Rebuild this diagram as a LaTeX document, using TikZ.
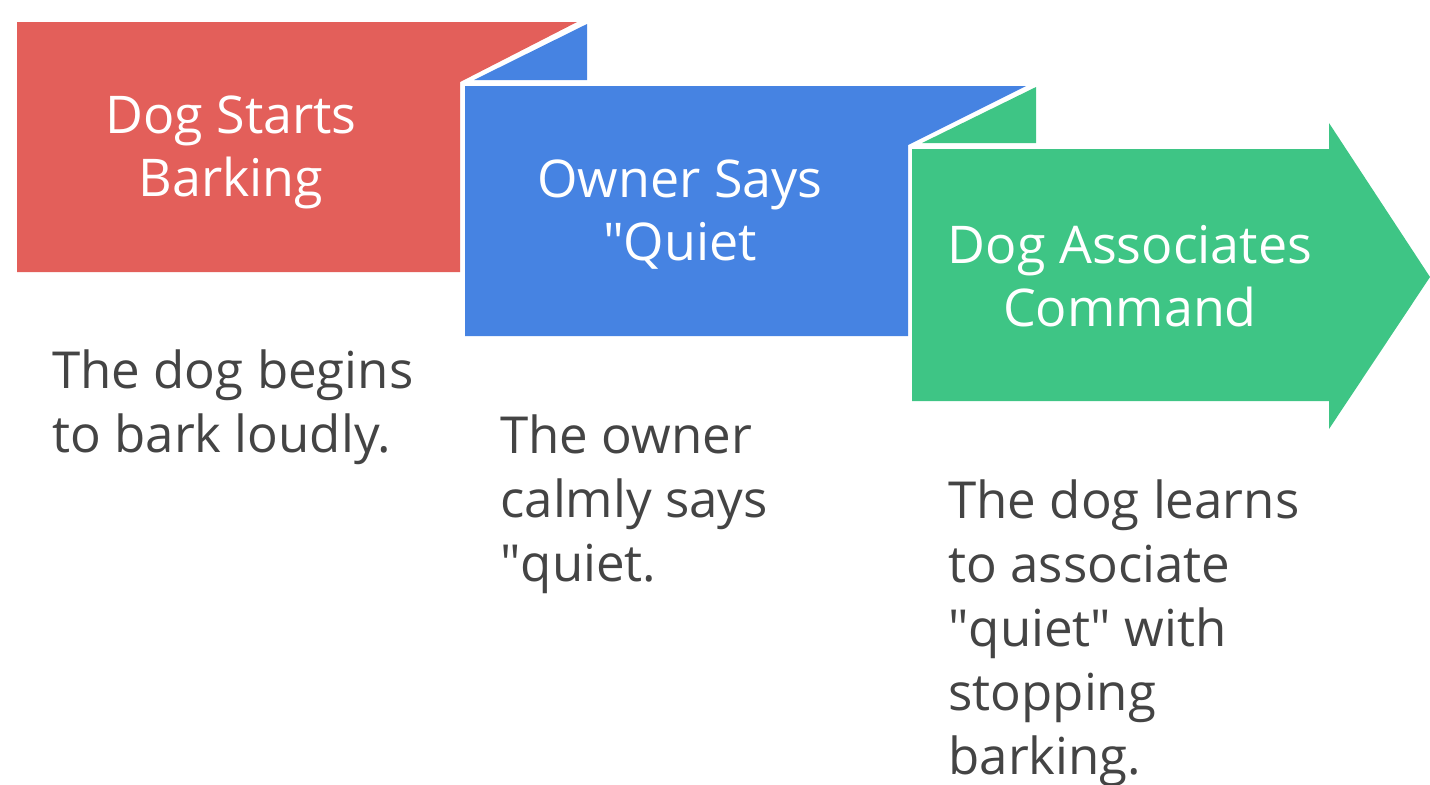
\documentclass[tikz,border=0pt]{standalone}
\usepackage{fontspec}
\setmainfont{Open Sans}
\usetikzlibrary{positioning}
\definecolor{redstep}{HTML}{E35F5A}
\definecolor{bluestep}{HTML}{4683E2}
\definecolor{greenstep}{HTML}{3EC585}
\definecolor{textgray}{HTML}{444444}

\begin{document}
\begin{tikzpicture}
[x=0.5pt,y=-0.5pt,
  titledecorate/.style={text=white,inner sep=0pt,align=center,
    font=\fontsize{26}{31.5}\selectfont},
  bodydecorate/.style={text=textgray,inner sep=0pt,align=left,anchor=north west,
    font=\fontsize{25.5}{32}\selectfont}]
\useasboundingbox (0,0) rectangle (1430,784);
%% folded panels
\fill[redstep] (17,22) -- (577,22) -- (460,82) -- (460,272) -- (17,272) -- cycle;
\fill[bluestep] (587,24) -- (587,80) -- (474,80) -- cycle;
\fill[bluestep] (465,86) -- (1026,86) -- (908,145) -- (908,336) -- (465,336) -- cycle;
\fill[greenstep] (1036,87) -- (1036,143) -- (922,143) -- cycle;
\fill[greenstep] (912,149) -- (1329,149) -- (1329,123) -- (1430,277)
  -- (1329,429) -- (1329,401) -- (912,401) -- cycle;
%% titles
\foreach \nodename/\x/\y/\words in {barking/231/152/{Dog Starts\\Barking},
  quiet/680/215/{Owner Says\\\textquotedbl Quiet},
  associates/1130/276/{Dog Associates\\Command}}
{
  \node (\nodename) at (\x,\y) [titledecorate] {\words};
}
%% descriptions
\foreach \nodename/\x/\y/\words in {barkingtext/52/349/{The dog begins\\to bark loudly.},
  quiettext/500/414/{The owner\\calmly says\\\textquotedbl quiet.},
  associatestext/948/479/{The dog learns\\to associate\\\textquotedbl quiet\textquotedbl{} with\\stopping\\barking.}}
{
  \node (\nodename) at (\x,\y) [bodydecorate] {\words};
}
\end{tikzpicture}
\end{document}
